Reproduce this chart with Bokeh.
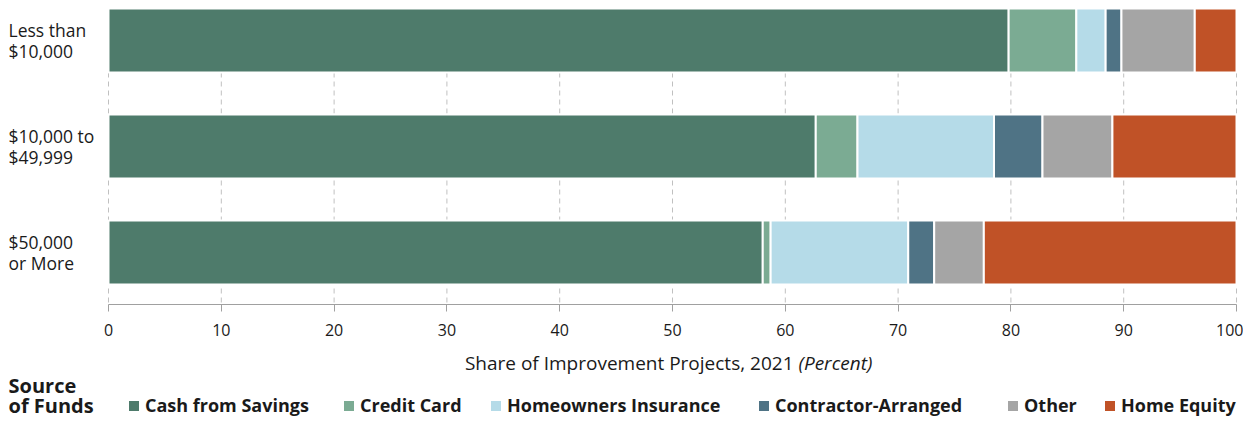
from bokeh.plotting import figure
from bokeh.models import ColumnDataSource, Legend, LegendItem, FixedTicker, Range1d
from bokeh.core.properties import value
from bokeh.embed import file_html
from bokeh.resources import INLINE

# ---- data ----
categories = ["Less than|$10,000", "$10,000 to|$49,999", "$50,000|or More"]
sources = ["Cash from Savings", "Credit Card", "Homeowners Insurance",
           "Contractor-Arranged", "Other", "Home Equity"]
cash = [79.8, 62.7, 58.0]
credit = [6.0, 3.7, 0.7]
insurance = [2.6, 12.1, 12.2]
contractor = [1.4, 4.3, 2.3]
other = [6.5, 6.2, 4.4]
equity = [3.7, 11.0, 22.4]
ticks = [0, 10, 20, 30, 40, 50, 60, 70, 80, 90, 100]
x_title = "Share of Improvement Projects, 2021"
x_unit = "(Percent)"
legend_title = ["Source", "of Funds"]

colors = ["#4e7b6b", "#7bab93", "#b5dbe8", "#4f7385", "#a5a5a5", "#c05227"]
FONT = "Open Sans"
TXT = "#1a1a1a"

W, H = 1243, 421
PX0, PX100 = 108, 1236           # pixel of x=0 and x=100
ppx = (PX100 - PX0) / 100.0
PITCH = 106.0                     # px between bar centers
Y0PX = 252.0                      # pixel row of bottom bar center


def xd(px):
    return (px - PX0) / ppx


def yd(px):
    return (Y0PX - px) / PITCH


ypos = [len(categories) - 1 - i for i in range(len(categories))]
src = ColumnDataSource(data={
    "y": ypos,
    "Cash from Savings": cash,
    "Credit Card": credit,
    "Homeowners Insurance": insurance,
    "Contractor-Arranged": contractor,
    "Other": other,
    "Home Equity": equity,
})

p = figure(width=W, height=H, output_backend="svg", toolbar_location=None,
           x_range=Range1d(xd(0), xd(W)), y_range=Range1d(yd(H), yd(0)),
           min_border=0, min_border_left=0, min_border_right=0,
           min_border_top=0, min_border_bottom=0)
p.outline_line_color = None
p.background_fill_color = "white"
p.border_fill_color = "white"
p.xgrid.visible = False
p.ygrid.visible = False
p.yaxis.visible = False

axis_y = yd(304)
grid_top = yd(9)

# dashed vertical grid lines at tick positions
p.segment(x0=ticks, y0=[grid_top] * len(ticks), x1=ticks, y1=[axis_y] * len(ticks),
          line_color="#c0c0c0", line_dash="5 4", line_width=1)

renderers = p.hbar_stack(sources, y="y", height=64 / PITCH, color=colors, source=src,
                         line_color="white", line_width=2)

# x axis drawn at the bottom of the bar area
xa = p.xaxis[0]
xa.fixed_location = axis_y
xa.bounds = (0, 100)
xa.ticker = FixedTicker(ticks=ticks)
xa.axis_line_color = "#a0a0a0"
xa.major_tick_line_color = "#a0a0a0"
xa.major_tick_out = 7
xa.major_tick_in = 0
xa.minor_tick_line_color = None
xa.major_label_text_font = FONT
xa.major_label_text_font_size = "16px"
xa.major_label_text_color = TXT
xa.major_label_standoff = 12

# category labels (two lines each)
lab_x = xd(8)
first = [c.split("|")[0] for c in categories]
second = [c.split("|")[1] for c in categories]
p.text(x=[lab_x] * len(categories), y=ypos, text=first, y_offset=-10.5,
       text_font=value(FONT), text_font_size="17.5px", text_color=TXT,
       text_baseline="middle", text_align="left")
p.text(x=[lab_x] * len(categories), y=ypos, text=second, y_offset=10.5,
       text_font=value(FONT), text_font_size="17.5px", text_color=TXT,
       text_baseline="middle", text_align="left")

# axis title
split_x = xd(793)
p.text(x=[split_x], y=[yd(362)], text=[x_title], text_font=value(FONT),
       text_font_size="19px", text_color=TXT, text_align="right", text_baseline="middle")
p.text(x=[split_x], y=[yd(362)], text=[x_unit], x_offset=5, text_font=value(FONT),
       text_font_size="19px", text_font_style="italic", text_color=TXT,
       text_align="left", text_baseline="middle")

# legend title
p.text(x=[lab_x, lab_x], y=[yd(385), yd(405)], text=legend_title, text_font=value(FONT),
       text_font_size="20px", text_font_style="bold", text_color=TXT,
       text_align="left", text_baseline="middle")

# one legend box per item, placed along the bottom row
item_px = [126, 341, 488, 756, 1005, 1102]
for s, r, lx in zip(sources, renderers, item_px):
    lg = Legend(items=[LegendItem(label=s, renderers=[r])],
                orientation="horizontal", location=(lx, H - 417),
                label_text_font=FONT, label_text_font_size="18px",
                label_text_font_style="bold", label_text_color=TXT,
                glyph_width=15, glyph_height=15, label_standoff=4, spacing=0,
                padding=0, margin=0, border_line_color=None,
                background_fill_alpha=0)
    p.add_layout(lg, "center")

open("out.html", "w").write(file_html(p, INLINE))
